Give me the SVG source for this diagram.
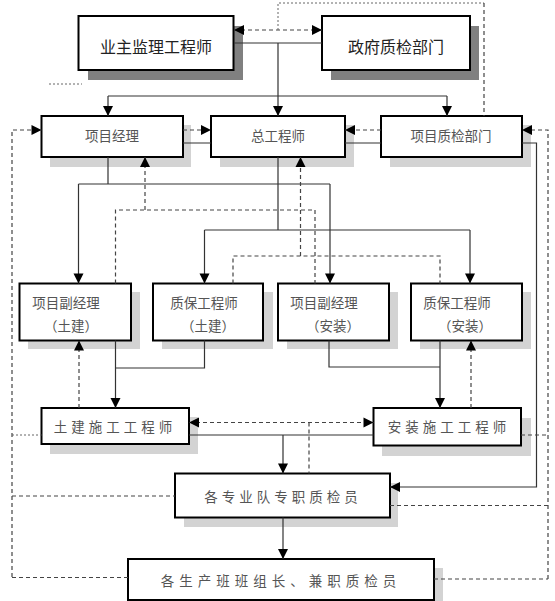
<svg xmlns="http://www.w3.org/2000/svg" width="555" height="601" viewBox="0 0 555 601">
<style>
.box{fill:#fff;stroke:#000;stroke-width:2}
.sd{fill:#808080}
.sl{fill:#d3d3d3}
.t{font-family:"Noto Sans CJK SC","Noto Sans",sans-serif;fill:#555;font-size:13.5px;text-anchor:middle;dominant-baseline:central}
.tt{fill:#222;font-size:16px}
.s{fill:none;stroke:#333;stroke-width:1.2}
.d{fill:none;stroke:#444;stroke-width:1.2;stroke-dasharray:4,3}
.o{fill:none;stroke:#666;stroke-width:1;stroke-dasharray:2,2}
.ah{fill:#000}
</style>
<defs>
<path id="ah" d="M0,0 L-10,-5 L-10,5 z"/>
</defs>

<g id="owner">
<rect class="sd" x="88" y="26" width="155" height="54"/>
<rect class="box" x="78.5" y="16" width="155" height="54"/>
<text class="t tt" x="156" y="46">业主监理工程师</text>
</g>
<g id="gov">
<rect class="sd" x="331" y="26" width="148" height="54"/>
<rect class="box" x="322" y="16" width="148" height="54"/>
<text class="t tt" x="396" y="46">政府质检部门</text>
</g>

<g id="pm">
<rect class="sl" x="50" y="125" width="141" height="42"/>
<rect class="box" x="41.5" y="116" width="141.5" height="41"/>
<text class="t" x="112" y="135">项目经理</text>
</g>
<g id="chief">
<rect class="sl" x="220" y="125" width="134" height="42"/>
<rect class="box" x="211" y="116" width="134" height="41"/>
<text class="t" x="278" y="135">总工程师</text>
</g>
<g id="qcdept">
<rect class="sl" x="390" y="125" width="141" height="42"/>
<rect class="box" x="381" y="116" width="141" height="41"/>
<text class="t" x="451" y="135">项目质检部门</text>
</g>

<g id="dpm-civil">
<rect class="sl" x="28" y="292" width="112" height="57"/>
<rect class="box" x="19.5" y="283.5" width="111.5" height="57"/>
<text class="t" x="66" y="302">项目副经理</text>
<text class="t" x="71" y="325">（土建）</text>
</g>
<g id="qa-civil">
<rect class="sl" x="162" y="292" width="111" height="57"/>
<rect class="box" x="153" y="283.5" width="110" height="57"/>
<text class="t" x="204" y="302">质保工程师</text>
<text class="t" x="208" y="325">（土建）</text>
</g>
<g id="dpm-install">
<rect class="sl" x="287" y="292" width="111" height="57"/>
<rect class="box" x="278" y="283.5" width="111" height="57"/>
<text class="t" x="324" y="302">项目副经理</text>
<text class="t" x="333" y="325">（安装）</text>
</g>
<g id="qa-install">
<rect class="sl" x="420" y="292" width="111" height="57"/>
<rect class="box" x="411" y="283.5" width="111" height="57"/>
<text class="t" x="457" y="302">质保工程师</text>
<text class="t" x="465" y="325">（安装）</text>
</g>

<g id="civil-eng">
<rect class="sl" x="50" y="417" width="148" height="37"/>
<rect class="box" x="41.5" y="408" width="147.5" height="36"/>
<text class="t" x="115" y="426" style="letter-spacing:4px">土建施工工程师</text>
</g>
<g id="install-eng">
<rect class="sl" x="382" y="418" width="149" height="38"/>
<rect class="box" x="373.5" y="408" width="147.5" height="37.5"/>
<text class="t" x="449" y="426" style="letter-spacing:4px">安装施工工程师</text>
</g>

<g id="team-qc">
<rect class="sl" x="184" y="483" width="214" height="44"/>
<rect class="box" x="175" y="473.5" width="215" height="44"/>
<text class="t" x="283" y="495.5" style="letter-spacing:4px">各专业队专职质检员</text>
</g>
<g id="crew-qc">
<rect class="sl" x="137" y="568" width="306" height="41"/>
<rect class="box" x="128" y="559" width="306" height="41"/>
<text class="t" x="281" y="580" style="letter-spacing:5px">各生产班班组长、兼职质检员</text>
</g>

<g id="connectors">
<path class="d" d="M234,30 H322"/>
<path class="o" d="M278,30 V3 H484"/>
<path class="d" d="M484,3 V116"/>
<path class="s" d="M234,43 H322 M278,43 V96 M108,96 H447 M108,96 V116 M278,96 V116 M447,96 V116"/>
<path class="o" d="M49,84 H82"/>
<path class="d" d="M183,130 H211"/>
<path class="d" d="M381,130 H345"/>
<path class="s" d="M183,143 H211 M345,143 H381"/>
<path class="d" d="M12,577 V130 H41.5"/>
<path class="d" d="M548,579 V130 H522"/>
<path class="s" d="M522,143 H536.5 V487 H390"/>
<path class="s" d="M108,157 V184 M78.5,184 H330 M78.5,184 V283.5 M330,184 V283.5"/>
<path class="d" d="M145,210 V157"/>
<path class="d" d="M115.5,283.5 V210 H315 V283.5"/>
<path class="s" d="M278,157 V230 M204.5,230 H470 M204.5,230 V283.5 M470,230 V283.5"/>
<path class="d" d="M300.5,256 V157"/>
<path class="d" d="M233,283.5 V256 H440 V283.5"/>
<path class="s" d="M115.5,340.5 V408 M204.5,340.5 V368 H115.5"/>
<path class="d" d="M79,408 V340.5"/>
<path class="s" d="M329,340.5 V367 H440 M440,340.5 V408"/>
<path class="d" d="M471,408 V340.5"/>
<path class="d" d="M189,422.5 H373.5"/>
<path class="s" d="M189,435 H373.5 M283,435 V473.5"/>
<path class="d" d="M309,422.5 V473.5"/>
<path class="o" d="M12,435 H41.5"/>
<path class="d" d="M521,435 H548"/>
<path class="d" d="M12,496 H175"/>
<path class="d" d="M390,505.5 H548"/>
<path class="s" d="M283,517.5 V559"/>
<path class="d" d="M12,577.5 H128"/>
<path class="d" d="M434,579 H548"/>
<g class="ah">
<use href="#ah" transform="translate(234,30) rotate(180)"/>
<use href="#ah" transform="translate(322,30)"/>
<use href="#ah" transform="translate(108,116) rotate(90)"/>
<use href="#ah" transform="translate(278,116) rotate(90)"/>
<use href="#ah" transform="translate(447,116) rotate(90)"/>
<use href="#ah" transform="translate(211,130)"/>
<use href="#ah" transform="translate(345,130) rotate(180)"/>
<use href="#ah" transform="translate(41.5,130)"/>
<use href="#ah" transform="translate(522,130) rotate(180)"/>
<use href="#ah" transform="translate(390,487) rotate(180)"/>
<use href="#ah" transform="translate(78.5,283.5) rotate(90)"/>
<use href="#ah" transform="translate(330,283.5) rotate(90)"/>
<use href="#ah" transform="translate(145,157) rotate(-90)"/>
<use href="#ah" transform="translate(204.5,283.5) rotate(90)"/>
<use href="#ah" transform="translate(470,283.5) rotate(90)"/>
<use href="#ah" transform="translate(300.5,157) rotate(-90)"/>
<use href="#ah" transform="translate(115.5,408) rotate(90)"/>
<use href="#ah" transform="translate(79,340.5) rotate(-90)"/>
<use href="#ah" transform="translate(440,408) rotate(90)"/>
<use href="#ah" transform="translate(471,340.5) rotate(-90)"/>
<use href="#ah" transform="translate(189,422.5) rotate(180)"/>
<use href="#ah" transform="translate(373.5,422.5)"/>
<use href="#ah" transform="translate(283,473.5) rotate(90)"/>
<use href="#ah" transform="translate(283,559) rotate(90)"/>
</g>
</g>
</svg>
